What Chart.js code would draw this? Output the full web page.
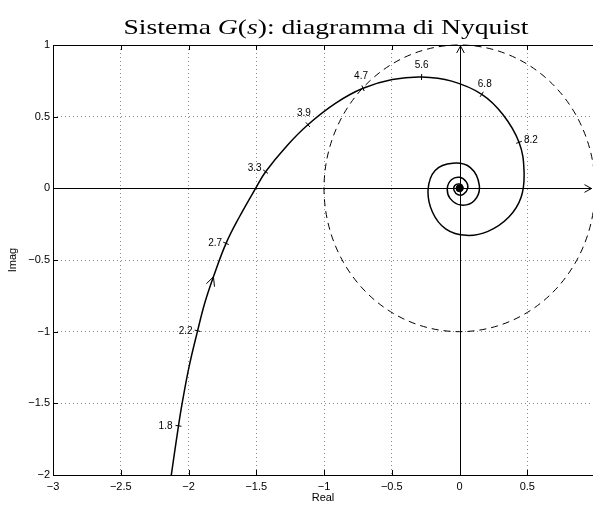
<!DOCTYPE html>
<html lang="en">
<head>
<meta charset="UTF-8" />
<title>Nyquist</title>
<script src="https://cdn.jsdelivr.net/npm/chart.js@4.4.0/dist/chart.umd.min.js"></script>
<style>
  html, body { margin: 0; padding: 0; background: #fff; }
  #nyquist { display: block; }
</style>
</head>
<body>
<canvas id="nyquist" width="598" height="506"></canvas>
<script>
// Nyquist curve G(jw), from low w to high w
const curveRe = [-2.127, -2.074, -2.047, -1.996, -1.933, -1.880, -1.816, -1.723, -1.625,
  -1.505, -1.431, -1.275, -1.119, -0.916, -0.712, -0.496, -0.280, -0.058, 0.164, 0.320,
  0.439, 0.476, 0.455, 0.364, 0.21, 0.05, -0.10, -0.20, -0.232, -0.18, -0.05, 0.08,
  0.146, 0.11, 0.012, -0.07, -0.09, -0.06, 0.0, 0.05, 0.06, 0.03, -0.01, -0.04, -0.035,
  0.0, 0.025, 0.015, -0.01, 0.0];
const curveIm = [-2.0, -1.657, -1.50, -1.245, -0.994, -0.80, -0.617, -0.384, -0.20,
  0.0, 0.116, 0.296, 0.444, 0.593, 0.698, 0.759, 0.777, 0.748, 0.656, 0.515,
  0.321, 0.12, -0.06, -0.20, -0.30, -0.328, -0.285, -0.165, -0.01, 0.125, 0.175, 0.145,
  0.02, -0.085, -0.117, -0.07, 0.0, 0.06, 0.077, 0.045, 0.0, -0.04, -0.045, -0.015, 0.02,
  0.03, 0.01, -0.015, -0.012, 0.0];

// frequency marks on the curve
const freqLabels = ["1.8", "2.2", "2.7", "3.3", "3.9", "4.7", "5.6", "6.8", "8.2"];
const freqRe = [-2.074, -1.933, -1.723, -1.431, -1.119, -0.712, -0.280, 0.164, 0.439];
const freqIm = [-1.657, -0.994, -0.384, 0.116, 0.444, 0.698, 0.777, 0.656, 0.321];

// direction arrow on the curve
const arrowRe = -1.816;
const arrowIm = -0.617;

// dashed unit circle
const circleRadius = 1;

const xTicks = [-3, -2.5, -2, -1.5, -1, -0.5, 0, 0.5];
const yTicks = [-2, -1.5, -1, -0.5, 0, 0.5, 1];

// label placement next to each mark: [dx, dy, align]
const labelPlace = [
  [-6, 0, "right"], [-5, 0, "right"], [-4, 0, "right"], [-4, -3, "right"],
  [-4, -11, "center"], [-2, -12, "center"], [0, -12, "center"], [3, -10, "center"],
  [5, -2, "left"]
];

const fmt = (v) => String(v).replace("-", "\u2212");
const sans = "'Liberation Sans', Arial, sans-serif";
const gridColor = (c) => (c.tick && c.tick.value === 0 ? "rgba(0,0,0,0)" : "#8a8a8a");

const points = curveRe.map((x, i) => ({ x: x, y: curveIm[i] }));

function arrowHead(ctx, tx, ty, dx, dy, len, spread) {
  const a = Math.atan2(dy, dx);
  ctx.beginPath();
  ctx.moveTo(tx - len * Math.cos(a - spread), ty - len * Math.sin(a - spread));
  ctx.lineTo(tx, ty);
  ctx.lineTo(tx - len * Math.cos(a + spread), ty - len * Math.sin(a + spread));
  ctx.stroke();
}

const decor = {
  id: "decor",
  beforeDatasetsDraw(chart) {
    const { ctx, chartArea: a, scales } = chart;
    const xs = scales.x, ys = scales.y;
    const x0 = xs.getPixelForValue(0), y0 = ys.getPixelForValue(0);

    // unit circle
    ctx.save();
    ctx.beginPath();
    ctx.rect(a.left, a.top - 1, a.right - a.left, a.bottom - a.top + 2);
    ctx.clip();
    ctx.strokeStyle = "#000";
    ctx.lineWidth = 1;
    ctx.setLineDash([7, 5]);
    ctx.beginPath();
    ctx.ellipse(x0, y0,
      xs.getPixelForValue(circleRadius) - x0,
      y0 - ys.getPixelForValue(circleRadius), 0, 0, Math.PI * 2);
    ctx.stroke();
    ctx.restore();

    ctx.save();
    ctx.strokeStyle = "#000";
    ctx.lineWidth = 1;
    // box: top, left, bottom
    ctx.beginPath();
    ctx.moveTo(a.right, a.top + 0.5);
    ctx.lineTo(a.left + 0.5, a.top + 0.5);
    ctx.lineTo(a.left + 0.5, a.bottom + 0.5);
    ctx.lineTo(a.right, a.bottom + 0.5);
    ctx.stroke();
    // inward ticks
    ctx.beginPath();
    xTicks.forEach((v) => {
      const px = Math.round(xs.getPixelForValue(v)) + 0.5;
      ctx.moveTo(px, a.bottom); ctx.lineTo(px, a.bottom - 5);
      ctx.moveTo(px, a.top); ctx.lineTo(px, a.top + 5);
    });
    yTicks.forEach((v) => {
      const py = Math.round(ys.getPixelForValue(v)) + 0.5;
      ctx.moveTo(a.left, py); ctx.lineTo(a.left + 5, py);
    });
    ctx.stroke();
    // real and imaginary axes
    ctx.beginPath();
    ctx.moveTo(a.left, Math.round(y0) + 0.5);
    ctx.lineTo(a.right - 1, Math.round(y0) + 0.5);
    ctx.moveTo(Math.round(x0) + 0.5, a.bottom);
    ctx.lineTo(Math.round(x0) + 0.5, a.top + 1);
    ctx.stroke();
    arrowHead(ctx, a.right - 1.5, Math.round(y0) + 0.5, 1, 0, 8, 0.5);
    arrowHead(ctx, Math.round(x0) + 0.5, a.top + 1, 0, -1, 8, 0.5);
    ctx.restore();
  },
  afterDatasetsDraw(chart) {
    const { ctx, scales } = chart;
    const xs = scales.x, ys = scales.y;
    const px = points.map((p) => [xs.getPixelForValue(p.x), ys.getPixelForValue(p.y)]);

    function dirAt(x, y) {
      let best = 0, bd = Infinity;
      px.forEach((p, i) => {
        const d = (p[0] - x) ** 2 + (p[1] - y) ** 2;
        if (d < bd) { bd = d; best = i; }
      });
      const a = px[Math.max(best - 1, 0)], b = px[Math.min(best + 1, px.length - 1)];
      const l = Math.hypot(b[0] - a[0], b[1] - a[1]) || 1;
      return [(b[0] - a[0]) / l, (b[1] - a[1]) / l];
    }

    ctx.save();
    ctx.strokeStyle = "#000";
    ctx.fillStyle = "#000";
    ctx.lineWidth = 1;
    ctx.font = "10px " + sans;
    ctx.textBaseline = "middle";
    freqLabels.forEach((lab, i) => {
      const x = xs.getPixelForValue(freqRe[i]), y = ys.getPixelForValue(freqIm[i]);
      const d = dirAt(x, y);
      ctx.beginPath();
      ctx.moveTo(x - d[1] * 3, y + d[0] * 3);
      ctx.lineTo(x + d[1] * 3, y - d[0] * 3);
      ctx.stroke();
      const pl = labelPlace[i];
      ctx.textAlign = pl[2];
      ctx.fillText(lab, x + pl[0], y + pl[1]);
    });

    // direction arrow
    const ax = xs.getPixelForValue(arrowRe), ay = ys.getPixelForValue(arrowIm);
    const d = dirAt(ax, ay);
    arrowHead(ctx, ax, ay, d[0], d[1], 10, 0.45);

    // title with italic G and s
    const parts = [["Sistema ", ""], ["G", "italic "], ["(", ""], ["s", "italic "],
      ["): diagramma di Nyquist", ""]];
    const serif = "21px 'Liberation Serif', 'Times New Roman', serif";
    let w = 0;
    parts.forEach((p) => { ctx.font = p[1] + serif; w += ctx.measureText(p[0]).width; });
    const sx = 405 / w;
    ctx.translate(326 - 405 / 2, 34);
    ctx.scale(sx, 1);
    ctx.textAlign = "left";
    ctx.textBaseline = "alphabetic";
    let cx = 0;
    parts.forEach((p) => {
      ctx.font = p[1] + serif;
      ctx.fillText(p[0], cx, 0);
      cx += ctx.measureText(p[0]).width;
    });
    ctx.restore();
  }
};

new Chart(document.getElementById("nyquist"), {
  type: "scatter",
  data: {
    datasets: [
      {
        data: points,
        showLine: true,
        borderColor: "#000",
        borderWidth: 1.5,
        pointRadius: 0,
        tension: 0.4
      },
      {
        data: [{ x: 0, y: 0 }],
        pointRadius: 3.5,
        pointBackgroundColor: "#000",
        pointBorderColor: "#000"
      }
    ]
  },
  options: {
    responsive: false,
    animation: false,
    devicePixelRatio: 1,
    layout: { padding: { top: 45, left: 0, right: 0, bottom: 0 } },
    plugins: { legend: { display: false }, tooltip: { enabled: false } },
    scales: {
      x: {
        type: "linear",
        min: -3,
        max: 0.985,
        afterBuildTicks: (s) => { s.ticks = xTicks.map((v) => ({ value: v })); },
        afterFit: (s) => { s.height = 31; },
        ticks: { callback: fmt, color: "#000", padding: 5, font: { size: 11, family: sans } },
        grid: { color: gridColor, drawTicks: false, lineWidth: 1 },
        border: { display: false, dash: [1, 3] },
        title: { display: true, text: "Real", color: "#000", padding: { top: 0, bottom: 1 }, font: { size: 11, family: sans } }
      },
      y: {
        type: "linear",
        min: -2,
        max: 1,
        afterBuildTicks: (s) => { s.ticks = yTicks.map((v) => ({ value: v })); },
        afterFit: (s) => { s.width = 53; },
        ticks: { callback: fmt, color: "#000", padding: 3, font: { size: 11, family: sans } },
        grid: { color: gridColor, drawTicks: false, lineWidth: 1 },
        border: { display: false, dash: [1, 3] },
        title: { display: true, text: "Imag", color: "#000", padding: { top: 6, bottom: 0 }, font: { size: 11, family: sans } }
      }
    }
  },
  plugins: [decor]
});
</script>
</body>
</html>
